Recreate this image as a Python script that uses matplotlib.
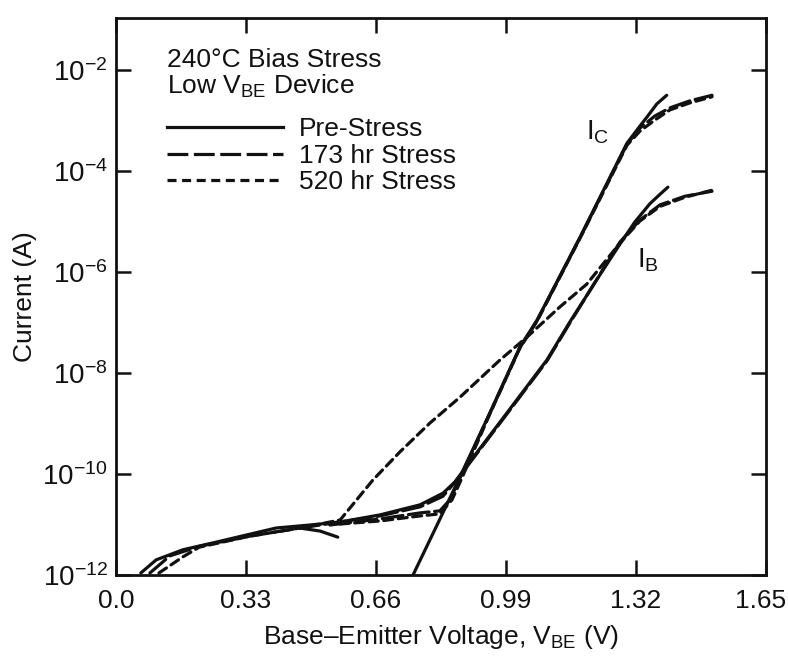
import matplotlib
matplotlib.use("Agg")
import matplotlib.pyplot as plt
import matplotlib.transforms as mtransforms
import numpy as np
from matplotlib.lines import Line2D

plt.rcParams["font.family"] = ["Liberation Sans", "DejaVu Sans"]
plt.rcParams["mathtext.fontset"] = "custom"
plt.rcParams["mathtext.rm"] = "Liberation Sans"
plt.rcParams["mathtext.it"] = "Liberation Sans:italic"
plt.rcParams["mathtext.default"] = "regular"
plt.rcParams["lines.scale_dashes"] = False

# ------------------------------------------------------------
# Data: V_BE in volts, current as log10(A)
# ------------------------------------------------------------
pre_ib_v = [0.063, 0.102, 0.170, 0.254, 0.406, 0.492, 0.569, 0.670, 0.772, 0.830,
            0.860, 0.898, 0.975, 1.094, 1.152, 1.228, 1.279, 1.317, 1.355, 1.381, 1.401]
pre_ib_log = [-11.96, -11.70, -11.50, -11.35, -11.07, -11.01, -10.95, -10.81, -10.61, -10.38,
              -10.16, -9.76, -8.97, -7.74, -6.99, -6.06, -5.45, -5.01, -4.65, -4.46, -4.32]

pre_ic_v = [0.754, 0.815, 0.873, 0.949, 1.025, 1.069, 1.178, 1.297, 1.330, 1.348, 1.373, 1.398]
pre_ic_log = [-12.00, -11.01, -10.06, -8.79, -7.49, -6.95, -5.31, -3.45, -3.11, -2.93, -2.67, -2.50]

# short solid branch ending in the low-voltage bundle
pre_tail_v = [0.467, 0.518, 0.563]
pre_tail_log = [-11.07, -11.13, -11.25]

s173_ib_v = [0.086, 0.137, 0.213, 0.340, 0.467, 0.569, 0.670, 0.772, 0.830, 0.865,
             0.898, 0.975, 1.094, 1.152, 1.279, 1.330, 1.381, 1.444, 1.513]
s173_ib_log = [-11.96, -11.62, -11.43, -11.23, -11.07, -10.95, -10.83, -10.65, -10.44, -10.12,
               -9.78, -8.99, -7.76, -7.01, -5.41, -4.97, -4.67, -4.50, -4.40]

s173_ic_v = [0.543, 0.670, 0.772, 0.822, 0.848, 0.873, 0.949, 1.025, 1.069, 1.178,
             1.297, 1.330, 1.368, 1.406, 1.457, 1.513]
s173_ic_log = [-11.01, -10.89, -10.77, -10.73, -10.51, -10.08, -8.80, -7.50, -6.96, -5.32,
               -3.47, -3.15, -2.91, -2.75, -2.61, -2.50]

s520_ib_v = [0.109, 0.170, 0.211, 0.340, 0.467, 0.569, 0.652, 0.721, 0.797, 0.873,
             0.975, 1.043, 1.127, 1.195, 1.279, 1.330, 1.381, 1.444, 1.513]
s520_ib_log = [-11.96, -11.64, -11.45, -11.23, -11.07, -10.91, -10.12, -9.56, -8.99, -8.48,
               -7.74, -7.29, -6.69, -6.24, -5.43, -4.99, -4.70, -4.52, -4.38]

s520_ic_v = [0.569, 0.670, 0.772, 0.822, 0.853, 0.878, 0.949, 1.025, 1.069, 1.178,
             1.297, 1.330, 1.368, 1.406, 1.457, 1.513]
s520_ic_log = [-10.99, -10.93, -10.83, -10.79, -10.51, -10.08, -8.81, -7.51, -6.97, -5.33,
               -3.49, -3.21, -2.99, -2.79, -2.65, -2.53]

x_ticks = [0.0, 0.33, 0.66, 0.99, 1.32, 1.65]
x_tick_labels = ["0.0", "0.33", "0.66", "0.99", "1.32", "1.65"]
y_tick_exps = [-12, -10, -8, -6, -4, -2]

legend_labels = ["Pre-Stress", "173 hr Stress", "520 hr Stress"]

# ------------------------------------------------------------
INK = "#111111"
LW = 2.3
STYLES = {
    "pre": dict(linestyle="-"),
    "173": dict(linestyle=(0, (15, 4))),
    "520": dict(linestyle=(0, (6.5, 4))),
}

fig = plt.figure(figsize=(7.88, 6.64), dpi=100)
ax = fig.add_axes([116 / 788, 89 / 664, 650 / 788, 557 / 664])


def draw(v, logi, key):
    ax.plot(v, 10.0 ** np.array(logi), color=INK, lw=LW,
            solid_capstyle="round", dash_capstyle="round", **STYLES[key])


draw(pre_ib_v, pre_ib_log, "pre")
draw(pre_ic_v, pre_ic_log, "pre")
draw(pre_tail_v, pre_tail_log, "pre")
draw(s173_ib_v, s173_ib_log, "173")
draw(s173_ic_v, s173_ic_log, "173")
draw(s520_ib_v, s520_ib_log, "520")
draw(s520_ic_v, s520_ic_log, "520")

ax.set_yscale("log")
ax.set_xlim(0, 1.65)
ax.set_ylim(1e-12, 10 ** -0.97)

ax.set_xticks(x_ticks)
ax.set_xticklabels(x_tick_labels)
ax.set_yticks([10.0 ** e for e in y_tick_exps])
ax.set_yticklabels([rf"$10^{{{e}}}$" for e in y_tick_exps])
ax.yaxis.set_minor_locator(matplotlib.ticker.NullLocator())

ax.tick_params(direction="in", top=True, right=True, length=11, width=1.8,
               labelsize=19, colors=INK)
ax.tick_params(axis="x", pad=10)
ax.tick_params(axis="y", pad=6, labelsize=20)
for sp in ax.spines.values():
    sp.set_linewidth(2.0)
    sp.set_color(INK)

# the last x label sits at the very edge of the canvas, nudge it inwards a little
last = ax.get_xticklabels()[-1]
last.set_transform(last.get_transform() + mtransforms.ScaledTranslation(-5 / 100, 0, fig.dpi_scale_trans))

ax.set_xlabel(r"Base–Emitter Voltage, V$_{BE}$ (V)", fontsize=19, color=INK, labelpad=7)
ax.set_ylabel("Current (A)", fontsize=19, color=INK, labelpad=4)

# header + legend
ax.text(0.078, 0.947, "240°C Bias Stress\nLow V$_{BE}$ Device", transform=ax.transAxes,
        ha="left", va="top", fontsize=19, color=INK, linespacing=1.05)
handles = [Line2D([], [], color=INK, lw=LW, **STYLES[k]) for k in ["pre", "173", "520"]]
ax.legend(handles, legend_labels, loc="upper left", bbox_to_anchor=(0.078, 0.822),
          frameon=False, fontsize=19, handlelength=4.4, handletextpad=0.6,
          labelspacing=0.1, borderpad=0, borderaxespad=0, labelcolor=INK)

ax.text(1.223, 10 ** -3.23, r"$I_C$", fontsize=20, color=INK, ha="center", va="center")
ax.text(1.350, 10 ** -5.76, r"$I_B$", fontsize=20, color=INK, ha="center", va="center")

fig.savefig("out.png", dpi=100)
